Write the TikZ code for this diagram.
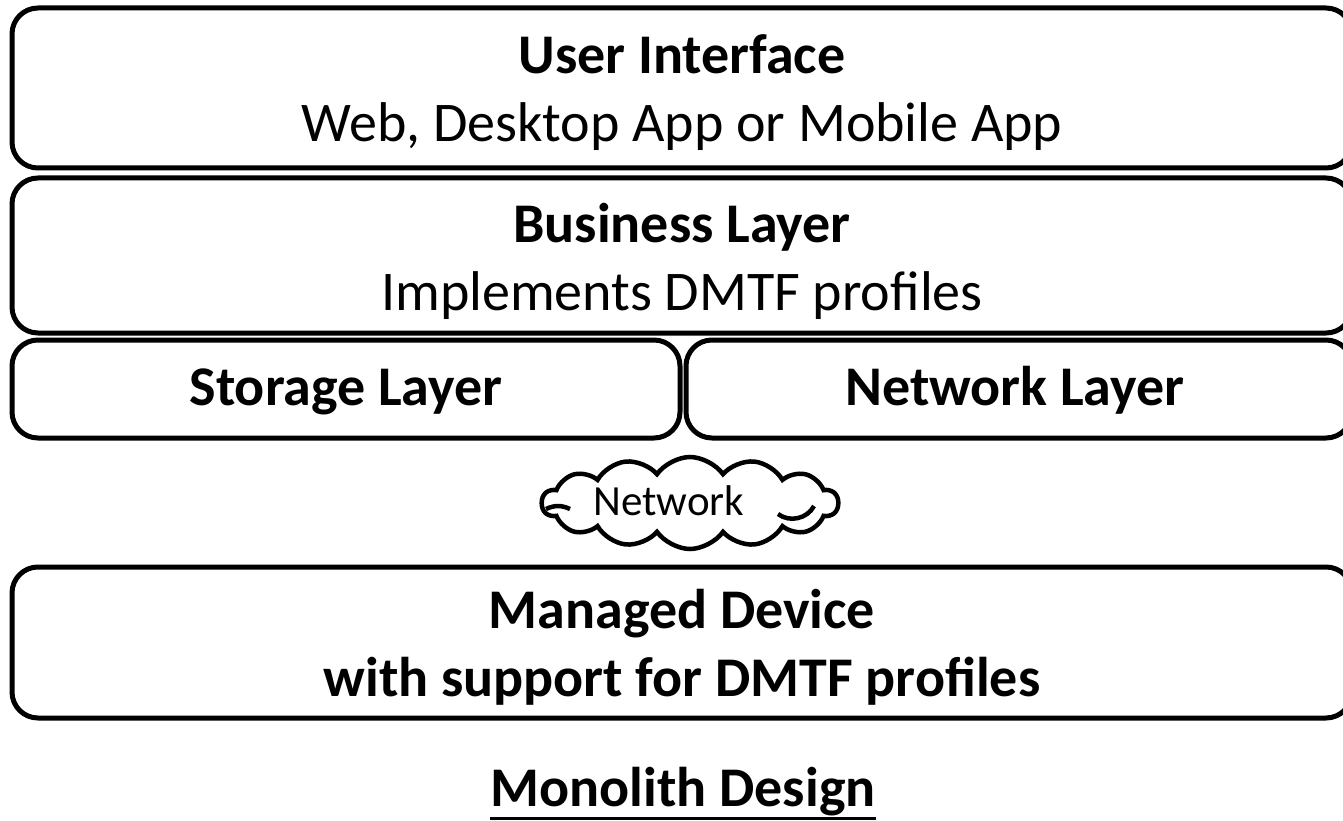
\documentclass[tikz,border=0pt]{standalone}
\usepackage{fontspec}
\setmainfont{Carlito}
\usetikzlibrary{shapes.symbols}
\begin{document}
\begin{tikzpicture}[x=1pt,y=-1pt,
  layer/.style={draw=black, line width=5pt, rounded corners=26pt, fill=white, inner sep=0pt},
  big/.style={font=\fontsize{56}{68}\selectfont, align=center},
  cloudbox/.style={cloud, draw=black, line width=4.5pt, cloud puffs=14, cloud puff arc=110, aspect=3.6, minimum width=296pt, minimum height=92pt, inner sep=0pt}]
\useasboundingbox (0,0) rectangle (1343,821);
\clip (0,0) rectangle (1343,821);
\node[layer, minimum width=1340pt, minimum height=160pt] (ui) at (682,88) {};
\node[big] (uit) at (682,93) {\textbf{User Interface}\\Web, Desktop App or Mobile App};
\node[layer, minimum width=1340pt, minimum height=155pt] (bl) at (682,255.5) {};
\node[big] (blt) at (682,261) {\textbf{Business Layer}\\Implements DMTF profiles};
\node[layer, minimum width=668pt, minimum height=98pt] (sl) at (346,389) {};
\node[big] at (346,392) {\textbf{Storage Layer}};
\node[layer, minimum width=666pt, minimum height=98pt] (nl) at (1019,389) {};
\node[big] at (1015,390) {\textbf{Network Layer}};
\node[cloudbox] (cloud) at (690,503) {};
\node[font=\fontsize{43}{50}\selectfont] (cloudt) at (669,501) {Network};
\draw[line width=4.5pt] (546,509) to[bend left=25] (570,509);
\draw[line width=4.5pt] (778,514) to[bend right=50] (814,506);
\node[layer, minimum width=1340pt, minimum height=151pt] (md) at (682,642.5) {};
\node[big] (mdt) at (682,647) {\textbf{Managed Device}\\\textbf{with support for DMTF profiles}};
\node[big, inner sep=0pt] (title) at (683,792) {\textbf{Monolith Design}};
\draw[line width=3pt] (title.west |- 0,818) -- (title.east |- 0,818);
\end{tikzpicture}
\end{document}
